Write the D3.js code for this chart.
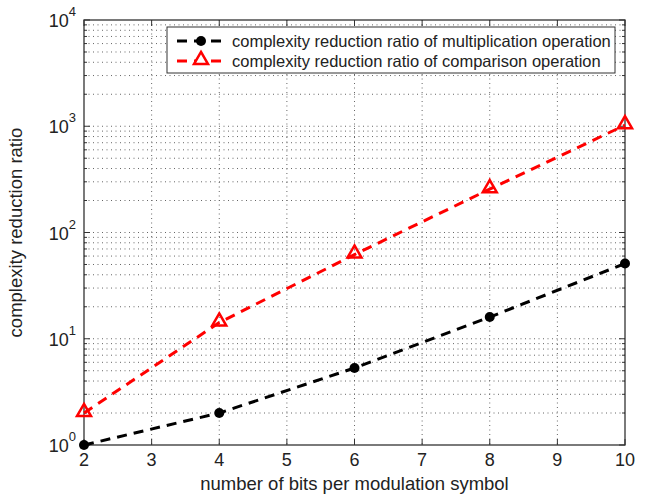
<!DOCTYPE html>
<meta charset="utf-8">
<head>
<script src="https://d3js.org/d3.v7.min.js"></script>
<style>
    body { margin: 0; background: #fff; }
    text { font-family: "Liberation Sans", Arial, sans-serif; fill: #222; }
    .grid line { stroke: #666; stroke-width: 1px; stroke-dasharray: 1,3.5; }
</style>
</head>
<body>
<svg id="chart" width="649" height="495"></svg>
<script>
    // data
    var bits = [2, 4, 6, 8, 10];
    var multRatio = [1, 2, 5.3, 16, 51];
    var compRatio = [2, 14.2, 62, 256, 1024];
    var xTicks = [2, 3, 4, 5, 6, 7, 8, 9, 10];
    var yTicks = [1, 10, 100, 1000, 10000];
    var seriesNames = ["complexity reduction ratio of multiplication operation",
                       "complexity reduction ratio of comparison operation"];

    var svg = d3.select("svg"),
        margin = {left: 84, right: 24, top: 20, bottom: 50},
        width = +svg.attr("width") - margin.left - margin.right,
        height = +svg.attr("height") - margin.top - margin.bottom;

    var g = svg.append("g").attr("transform", "translate(" + margin.left + "," + margin.top + ")");

    var x = d3.scaleLinear().domain([2, 10]).range([0, width]);
    var y = d3.scaleLog().domain([1, 10000]).range([height, 0]);

    // all log gridlines (major + minor)
    var yMinor = [];
    for (var k = 0; k < 4; k++) {
      for (var m = 1; m <= 9; m++) yMinor.push(m * Math.pow(10, k));
    }
    yMinor.push(10000);

    var grid = g.append("g").attr("class", "grid");
    grid.selectAll(".gx").data(xTicks.slice(1, -1)).enter().append("line")
      .attr("x1", d => x(d)).attr("x2", d => x(d))
      .attr("y1", 0).attr("y2", height);
    grid.selectAll(".gy").data(yMinor.slice(1, -1)).enter().append("line")
      .attr("y1", d => y(d)).attr("y2", d => y(d))
      .attr("x1", 0).attr("x2", width);

    // box
    g.append("rect").attr("width", width).attr("height", height)
      .attr("fill", "none").attr("stroke", "#333").attr("stroke-width", 1.3);

    // ticks inside, all four sides
    var ticks = g.append("g").attr("stroke", "#333").attr("stroke-width", 1);
    xTicks.forEach(function(d) {
      ticks.append("line").attr("x1", x(d)).attr("x2", x(d)).attr("y1", height).attr("y2", height - 6);
      ticks.append("line").attr("x1", x(d)).attr("x2", x(d)).attr("y1", 0).attr("y2", 6);
    });
    yMinor.forEach(function(d) {
      var len = yTicks.indexOf(d) >= 0 ? 6 : 3;
      ticks.append("line").attr("y1", y(d)).attr("y2", y(d)).attr("x1", 0).attr("x2", len);
      ticks.append("line").attr("y1", y(d)).attr("y2", y(d)).attr("x1", width).attr("x2", width - len);
    });

    // x tick labels
    g.selectAll(".xl").data(xTicks).enter().append("text")
      .attr("x", d => x(d)).attr("y", height + 21)
      .attr("text-anchor", "middle").attr("font-size", 18)
      .text(d => d);

    // y tick labels 10^k
    var yl = g.selectAll(".yl").data(yTicks).enter().append("text")
      .attr("x", -8).attr("y", d => y(d) + 7)
      .attr("text-anchor", "end").attr("font-size", 18);
    yl.append("tspan").text("10");
    yl.append("tspan").attr("dy", -11).attr("font-size", 13).text(d => Math.round(Math.log10(d)));

    // axis labels
    g.append("text").attr("x", width / 2).attr("y", height + 45)
      .attr("text-anchor", "middle").attr("font-size", 18.5)
      .text("number of bits per modulation symbol");
    g.append("text").attr("transform", "translate(-62," + (height / 2) + ") rotate(-90)")
      .attr("text-anchor", "middle").attr("font-size", 18.5)
      .text("complexity reduction ratio");

    // lines
    var line = d3.line().x(d => x(d[0])).y(d => y(d[1]));
    var multData = bits.map((b, i) => [b, multRatio[i]]);
    var compData = bits.map((b, i) => [b, compRatio[i]]);

    g.append("path").datum(multData).attr("d", line)
      .attr("fill", "none").attr("stroke", "#000").attr("stroke-width", 3)
      .attr("stroke-dasharray", "10,7");
    g.append("path").datum(compData).attr("d", line)
      .attr("fill", "none").attr("stroke", "#f00").attr("stroke-width", 3)
      .attr("stroke-dasharray", "10,7");

    var tri = d3.symbol().type(d3.symbolTriangle).size(85);
    g.selectAll(".dot").data(multData).enter().append("circle")
      .attr("cx", d => x(d[0])).attr("cy", d => y(d[1])).attr("r", 5).attr("fill", "#000");
    g.selectAll(".tri").data(compData).enter().append("path")
      .attr("d", tri).attr("transform", d => "translate(" + x(d[0]) + "," + (y(d[1]) - 1) + ")")
      .attr("fill", "none").attr("stroke", "#f00").attr("stroke-width", 2.5);

    // legend
    var lg = g.append("g").attr("transform", "translate(" + (167 - margin.left) + "," + (27 - margin.top) + ")");
    lg.append("rect").attr("width", 448).attr("height", 46)
      .attr("fill", "#fff").attr("stroke", "#333").attr("stroke-width", 1);
    [["#000", "c"], ["#f00", "t"]].forEach(function(s, i) {
      var cy = 14 + i * 20;
      lg.append("line").attr("x1", 10).attr("x2", 58).attr("y1", cy).attr("y2", cy)
        .attr("stroke", s[0]).attr("stroke-width", 3).attr("stroke-dasharray", "10,7");
      if (s[1] == "c") {
        lg.append("circle").attr("cx", 34).attr("cy", cy).attr("r", 5).attr("fill", "#000");
      } else {
        lg.append("path").attr("d", tri).attr("transform", "translate(34," + (cy - 1) + ")")
          .attr("fill", "#fff").attr("stroke", "#f00").attr("stroke-width", 2.5);
      }
      lg.append("text").attr("x", 65).attr("y", cy + 6).attr("font-size", 16.5)
        .text(seriesNames[i]);
    });
</script>
</body>
